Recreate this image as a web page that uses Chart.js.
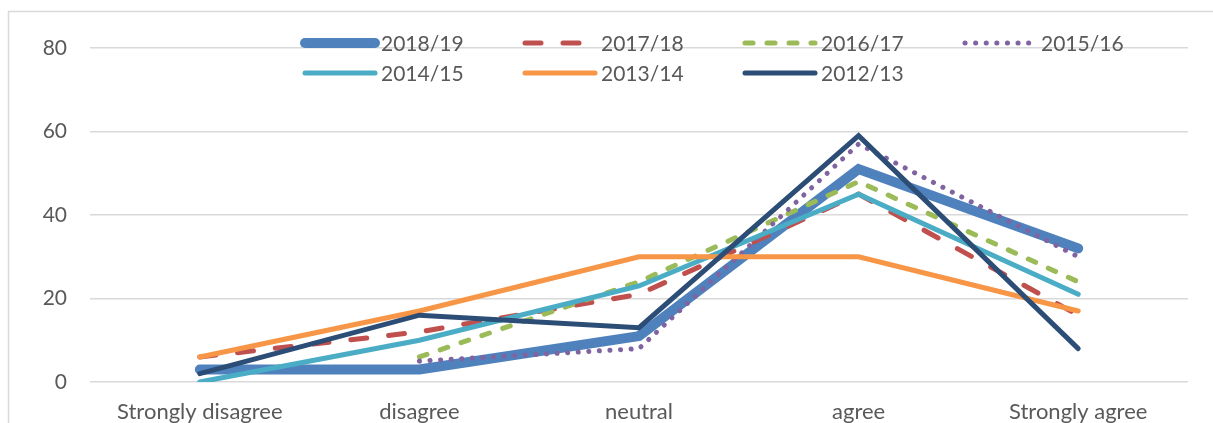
<!DOCTYPE html>
<html>
<head>
<meta charset="utf-8">
<script src="https://cdn.jsdelivr.net/npm/chart.js@4"></script>
<style>
  html, body { margin: 0; padding: 0; background: #fff; }
  #wrap { width: 1213px; height: 423px; }
</style>
</head>
<body>
<div id="wrap"><canvas id="responses" width="1213" height="423"></canvas></div>
<script>
// categories and series (percent of responses)
const categories = ['Strongly disagree', 'disagree', 'neutral', 'agree', 'Strongly agree'];
const y2018 = [3, 3, 11, 51, 32];
const y2017 = [6, 12, 21, 45, 16];
const y2016 = [null, 6, 24, 48, 24];
const y2015 = [null, 5, 8, 57, 30];
const y2014 = [0, 10, 23, 45, 21];
const y2013 = [6, 17, 30, 30, 17];
const y2012 = [2, 16, 13, 59, 8];
const yTicks = [0, 20, 40, 60, 80];

const FONT = 'Lato';
const TEXT = '#595959';
const GRID = '#d9d9d9';

function series(label, data, color, width, dash, i) {
  return {
    label: label,
    data: data,
    borderColor: color,
    backgroundColor: color,
    borderWidth: width,
    borderDash: dash,
    borderCapStyle: 'round',
    borderJoinStyle: 'miter',
    pointRadius: 0,
    tension: 0,
    fill: false,
    order: 7 - i
  };
}

// Excel-like frame round the chart
const framePlugin = {
  id: 'frame',
  beforeDraw(chart) {
    const ctx = chart.ctx;
    ctx.save();
    ctx.fillStyle = '#fff';
    ctx.fillRect(0, 0, chart.width, chart.height);
    ctx.strokeStyle = GRID;
    ctx.lineWidth = 1.5;
    ctx.beginPath();
    ctx.moveTo(8.5, chart.height + 5);
    ctx.lineTo(8.5, 11.5);
    ctx.lineTo(chart.width + 5, 11.5);
    ctx.stroke();
    ctx.restore();
  }
};

// legend laid out in a 4-column grid, like the Excel one
const gridLegend = {
  id: 'gridLegend',
  afterDatasetsDraw(chart) {
    const ctx = chart.ctx;
    ctx.save();
    ctx.font = '21px ' + FONT;
    ctx.textBaseline = 'middle';
    ctx.fillStyle = TEXT;
    chart.data.datasets.forEach((ds, i) => {
      const col = i % 4, row = Math.floor(i / 4);
      const x = 305 + col * 220;
      const y = 43 + row * 30;
      ctx.beginPath();
      ctx.strokeStyle = ds.borderColor;
      ctx.lineWidth = ds.borderWidth;
      ctx.lineCap = 'round';
      ctx.setLineDash(ds.borderDash || []);
      ctx.moveTo(x, y);
      ctx.lineTo(x + 70, y);
      ctx.stroke();
      ctx.setLineDash([]);
      ctx.fillText(ds.label, x + 76, y + 1);
    });
    ctx.restore();
  }
};

new Chart(document.getElementById('responses'), {
  type: 'line',
  data: {
    labels: categories,
    datasets: [
      series('2018/19', y2018, '#4F81BD', 10, [], 0),
      series('2017/18', y2017, '#C0504D', 5, [16, 22], 1),
      series('2016/17', y2016, '#9BBB59', 5, [8, 14], 2),
      series('2015/16', y2015, '#8064A2', 5, [0.1, 10.5], 3),
      series('2014/15', y2014, '#4BACC6', 5, [], 4),
      series('2013/14', y2013, '#F79646', 5, [], 5),
      series('2012/13', y2012, '#2C4D75', 5, [], 6)
    ]
  },
  options: {
    responsive: false,
    animation: false,
    layout: { padding: { left: 0, top: 48, right: 25, bottom: 0 } },
    plugins: {
      legend: { display: false },
      title: { display: false },
      tooltip: { enabled: false }
    },
    scales: {
      x: {
        offset: true,
        grid: { display: false },
        border: { display: false },
        ticks: { color: TEXT, font: { family: FONT, size: 22 }, padding: 9, maxRotation: 0, autoSkip: false },
        afterFit(s) { s.height = 41; }
      },
      y: {
        min: 0,
        max: 80,
        afterBuildTicks(s) { s.ticks = yTicks.map(v => ({ value: v })); },
        grid: { color: GRID, lineWidth: 1.5, drawTicks: false },
        border: { display: false },
        ticks: { color: TEXT, font: { family: FONT, size: 21 }, padding: 23 },
        afterFit(s) { s.width = 90; }
      }
    }
  },
  plugins: [framePlugin, gridLegend]
});
</script>
</body>
</html>
